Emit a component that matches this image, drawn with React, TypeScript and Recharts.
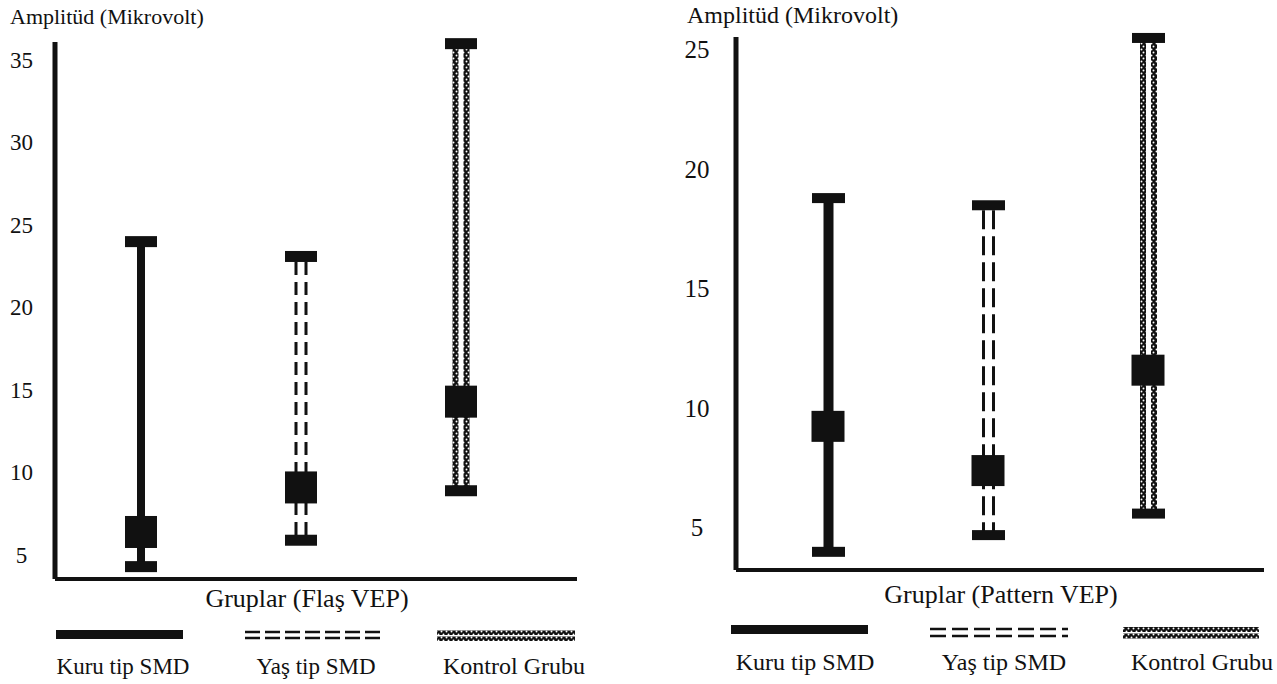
import React from 'react';
import { ComposedChart, Bar, Scatter, XAxis, YAxis } from 'recharts';

const groups = ['Kuru tip SMD', 'Yaş tip SMD', 'Kontrol Grubu'];

const flashLow = [4.3, 5.9, 8.9];
const flashHigh = [24.0, 23.1, 36.0];
const flashMean = [6.4, 9.1, 14.3];
const flashTicks = [5, 10, 15, 20, 25, 30, 35];

const patternLow = [4.0, 4.7, 5.6];
const patternHigh = [18.8, 18.5, 25.5];
const patternMean = [9.25, 7.4, 11.6];
const patternTicks = [5, 10, 15, 20, 25];

const FONT = 'Liberation Serif, DejaVu Serif, Times New Roman, serif';
const INK = '#111';

const flashData = groups.map((g, i) => ({ group: g, kind: i, range: [flashLow[i], flashHigh[i]], mean: flashMean[i] }));
const patternData = groups.map((g, i) => ({ group: g, kind: i, range: [patternLow[i], patternHigh[i]], mean: patternMean[i] }));

type Sty = {
  capW: number; capH: number; solidW: number; dashOff: number; dashW: number; dash: string;
  chainOff: number; chainW: number; pid: string; sqW: number; sqH: number;
};

const chainPattern = (id: string) => (
  <pattern id={id} width={5} height={6} patternUnits="userSpaceOnUse">
    <rect width={5} height={6} fill={INK} />
    <circle cx={1.5} cy={1.5} r={0.95} fill="#fff" />
    <circle cx={3.5} cy={4.5} r={0.95} fill="#fff" />
  </pattern>
);

const makeShape = (s: Sty) => (props: any) => {
  const { x, y, width, height, payload } = props;
  const cx = x + width / 2;
  const top = Math.min(y, y + height);
  const bot = Math.max(y, y + height);
  const k = payload.kind;
  let stem: any = null;
  if (k === 0) {
    stem = <rect x={cx - s.solidW / 2} y={top} width={s.solidW} height={bot - top} fill={INK} />;
  } else if (k === 1) {
    stem = (
      <g stroke={INK} strokeWidth={s.dashW} strokeDasharray={s.dash}>
        <line x1={cx - s.dashOff} x2={cx - s.dashOff} y1={top + s.capH / 2} y2={bot} />
        <line x1={cx + s.dashOff} x2={cx + s.dashOff} y1={top + s.capH / 2} y2={bot} />
      </g>
    );
  } else {
    stem = (
      <g>
        <defs>{chainPattern(s.pid)}</defs>
        <rect x={cx - s.chainOff - s.chainW / 2} y={top} width={s.chainW} height={bot - top} fill={`url(#${s.pid})`} />
        <rect x={cx + s.chainOff - s.chainW / 2} y={top} width={s.chainW} height={bot - top} fill={`url(#${s.pid})`} />
      </g>
    );
  }
  return (
    <g>
      {stem}
      <rect x={cx - s.capW / 2} y={top - s.capH / 2} width={s.capW} height={s.capH} fill={INK} />
      <rect x={cx - s.capW / 2} y={bot - s.capH / 2} width={s.capW} height={s.capH} fill={INK} />
    </g>
  );
};

const makeSquare = (w: number, h: number) => (props: any) => {
  const { cx, cy } = props;
  return <rect x={cx - w / 2} y={cy - h / 2} width={w} height={h} fill={INK} />;
};

const makeTick = (cxText: number, size: number) => (props: any) => {
  const { y, payload } = props;
  return (
    <text x={cxText} y={y} dy={size * 0.34} textAnchor="middle" style={{ fontFamily: FONT }} fontSize={size} fill={INK}>
      {payload.value}
    </text>
  );
};

const leftSty: Sty = { capW: 32, capH: 11, solidW: 8, dashOff: 5, dashW: 3, dash: '13 7', chainOff: 5.5, chainW: 6, pid: 'chainL', sqW: 32, sqH: 32 };
const rightSty: Sty = { capW: 33, capH: 10, solidW: 10, dashOff: 5, dashW: 3, dash: '19 7', chainOff: 5.5, chainW: 6, pid: 'chainR', sqW: 33, sqH: 31 };

const LegendChain = ({ x, y, w, h, id }: any) => (
  <g>
    <defs>{chainPattern(id)}</defs>
    <rect x={x} y={y} width={w} height={h} fill={`url(#${id})`} />
  </g>
);

export default function App() {
  return (
    <div style={{ position: 'absolute', left: 0, top: 0, width: 1277, height: 684, background: '#fff', overflow: 'hidden', fontFamily: FONT }}>
      <div style={{ position: 'absolute', left: 0, top: 0 }}>
        <ComposedChart width={640} height={684} data={flashData} margin={{ top: 42, right: 63, bottom: 75, left: 0 }}>
          <XAxis dataKey="group" type="category" tick={false} tickLine={false} height={30}
            axisLine={{ stroke: INK, strokeWidth: 4 }} padding={{ left: 6, right: 36 }} />
          <YAxis type="number" domain={[3.55, 36.1]} ticks={flashTicks} width={55} tickLine={false}
            axisLine={{ stroke: INK, strokeWidth: 5 }} tick={makeTick(21.5, 23)} />
          <Bar dataKey="range" barSize={32} shape={makeShape(leftSty)} isAnimationActive={false} />
          <Scatter dataKey="mean" shape={makeSquare(leftSty.sqW, leftSty.sqH)} isAnimationActive={false} />
        </ComposedChart>
      </div>
      <div style={{ position: 'absolute', left: 640, top: 0 }}>
        <ComposedChart width={637} height={684} data={patternData} margin={{ top: 37, right: 13, bottom: 84, left: 0 }}>
          <XAxis dataKey="group" type="category" tick={false} tickLine={false} height={30}
            axisLine={{ stroke: INK, strokeWidth: 4 }} padding={{ left: 12, right: 36 }} />
          <YAxis type="number" domain={[3.24, 25.54]} ticks={patternTicks} width={96} tickLine={false}
            axisLine={{ stroke: INK, strokeWidth: 5 }} tick={makeTick(57, 25)} />
          <Bar dataKey="range" barSize={33} shape={makeShape(rightSty)} isAnimationActive={false} />
          <Scatter dataKey="mean" shape={makeSquare(rightSty.sqW, rightSty.sqH)} isAnimationActive={false} />
        </ComposedChart>
      </div>
      <svg width={1277} height={684} style={{ position: 'absolute', left: 0, top: 0, pointerEvents: 'none' }}>
        <g style={{ fontFamily: FONT }} fill={INK}>
          <text x={10} y={24} fontSize={22}>Amplitüd (Mikrovolt)</text>
          <text x={687} y={23} fontSize={24}>Amplitüd (Mikrovolt)</text>
          <text x={307} y={607} fontSize={26} textAnchor="middle">Gruplar (Flaş VEP)</text>
          <text x={1001} y={603} fontSize={26} textAnchor="middle">Gruplar (Pattern VEP)</text>

          <text x={123} y={674} fontSize={23} textAnchor="middle">{groups[0]}</text>
          <text x={316} y={674} fontSize={23} textAnchor="middle">{groups[1]}</text>
          <text x={514} y={674} fontSize={24} textAnchor="middle">{groups[2]}</text>
          <text x={805} y={670} fontSize={24} textAnchor="middle">{groups[0]}</text>
          <text x={1004} y={670} fontSize={24} textAnchor="middle">{groups[1]}</text>
          <text x={1202} y={670} fontSize={24} textAnchor="middle">{groups[2]}</text>
        </g>
        <rect x={56} y={630} width={127} height={9} fill={INK} />
        <g stroke={INK} strokeWidth={2.5} strokeDasharray="15 5">
          <line x1={245} x2={383} y1={632} y2={632} />
          <line x1={245} x2={383} y1={638} y2={638} />
        </g>
        <LegendChain x={437} y={630.5} w={138} h={4.5} id="lgL1" />
        <LegendChain x={437} y={636.5} w={138} h={4.5} id="lgL2" />

        <rect x={731} y={625} width={137} height={9} fill={INK} />
        <g stroke={INK} strokeWidth={2.5} strokeDasharray="16 6">
          <line x1={930} x2={1068} y1={629} y2={629} />
          <line x1={930} x2={1068} y1={636} y2={636} />
        </g>
        <LegendChain x={1123} y={627} w={136} h={5} id="lgR1" />
        <LegendChain x={1123} y={633.5} w={136} h={5} id="lgR2" />
      </svg>
    </div>
  );
}
